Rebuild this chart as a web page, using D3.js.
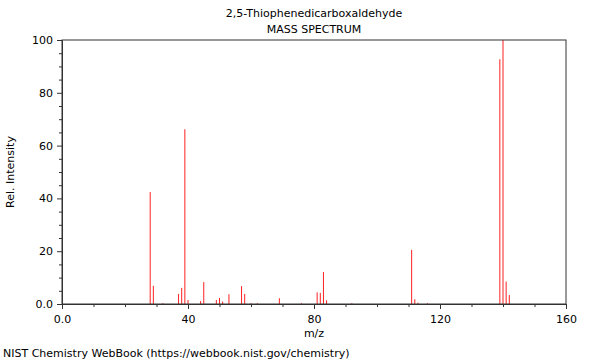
<!DOCTYPE html>
<html><head><meta charset="utf-8">
<script src="https://cdn.jsdelivr.net/npm/d3@7"></script>
<style>body{margin:0;background:#fff}svg{display:block}text{font-family:"DejaVu Sans",sans-serif;fill:#000}</style>
</head><body><svg id="c" width="600" height="360"></svg>
<script>
const title = "2,5-Thiophenedicarboxaldehyde";
const subtitle = "MASS SPECTRUM";
const mz = [28, 29, 32, 37, 38, 39, 40, 44, 45, 49, 50, 51, 53, 57, 58, 60, 62, 69, 76, 81, 82, 83, 84, 92, 111, 112, 113, 116, 139, 140, 141, 142];
const intensity = [42.4, 6.9, 0.3, 3.8, 6.1, 66.2, 1.5, 1.1, 8.3, 1.5, 2.3, 0.9, 3.7, 6.8, 3.8, 0.3, 0.3, 2.2, 0.3, 4.4, 4.2, 12.1, 1.4, 0.3, 20.5, 1.8, 0.5, 0.3, 92.7, 100, 8.5, 3.4];
const xTicks = [0, 40, 80, 120, 160];
const xTickLabels = ["0.0", "40", "80", "120", "160"];
const yTicks = [0, 20, 40, 60, 80, 100];
const yTickLabels = ["0.0", "20", "40", "60", "80", "100"];

const svg = d3.select("#c");
const L = 62, R = 566, T = 40, B = 304;
const x = d3.scaleLinear().domain([0, 160]).range([L, R]);
const y = d3.scaleLinear().domain([0, 100]).range([B, T]);
const axisColor = "#333";

// peaks
svg.append("g").selectAll("line").data(mz).join("line")
  .attr("x1", (d) => x(d)).attr("x2", (d) => x(d))
  .attr("y1", y(0)).attr("y2", (d, i) => y(intensity[i]))
  .attr("stroke", "#ff2020").attr("stroke-width", 1);

// frame
svg.append("rect").attr("x", L).attr("y", T).attr("width", R - L).attr("height", B - T)
  .attr("fill", "none").attr("stroke", axisColor).attr("stroke-width", 1);

// x axis
const xa = d3.axisBottom(x).tickValues(xTicks).tickSize(5).tickPadding(6)
  .tickFormat((d, i) => xTickLabels[i]);
const gx = svg.append("g").attr("transform", `translate(0,${B})`).call(xa);
gx.select(".domain").attr("stroke", axisColor);
gx.selectAll(".tick line").attr("stroke", axisColor);
gx.selectAll("text").style("font-size", "11px").attr("fill", "#000");
const xMinor = d3.range(0, 161, 10).filter(v => v % 40 !== 0);
const gxm = svg.append("g").attr("transform", `translate(0,${B})`).call(d3.axisBottom(x).tickValues(xMinor).tickSize(3).tickFormat(""));
gxm.select(".domain").remove();
gxm.selectAll(".tick line").attr("stroke", axisColor);

// y axis
const ya = d3.axisLeft(y).tickValues(yTicks).tickSize(5).tickPadding(4)
  .tickFormat((d, i) => yTickLabels[i]);
const gy = svg.append("g").attr("transform", `translate(${L},0)`).call(ya);
gy.select(".domain").attr("stroke", axisColor);
gy.selectAll(".tick line").attr("stroke", axisColor);
gy.selectAll("text").style("font-size", "11px").attr("fill", "#000");
const yMinor = d3.range(0, 101, 5).filter(v => v % 20 !== 0);
const gym = svg.append("g").attr("transform", `translate(${L},0)`).call(d3.axisLeft(y).tickValues(yMinor).tickSize(3).tickFormat(""));
gym.select(".domain").remove();
gym.selectAll(".tick line").attr("stroke", axisColor);

// titles
const cx = (L + R) / 2;
svg.append("text").attr("x", cx).attr("y", 17).attr("text-anchor", "middle").style("font-size", "11px").text(title);
svg.append("text").attr("x", cx).attr("y", 33).attr("text-anchor", "middle").style("font-size", "11px").text(subtitle);
svg.append("text").attr("x", cx).attr("y", 337).attr("text-anchor", "middle").style("font-size", "11px").text("m/z");
svg.append("text").attr("transform", `translate(14,${(T + B) / 2}) rotate(-90)`).attr("text-anchor", "middle").style("font-size", "11px").text("Rel. Intensity");
svg.append("text").attr("x", 3).attr("y", 357).style("font-size", "11px").text("NIST Chemistry WebBook (https://webbook.nist.gov/chemistry)");
</script></body></html>
